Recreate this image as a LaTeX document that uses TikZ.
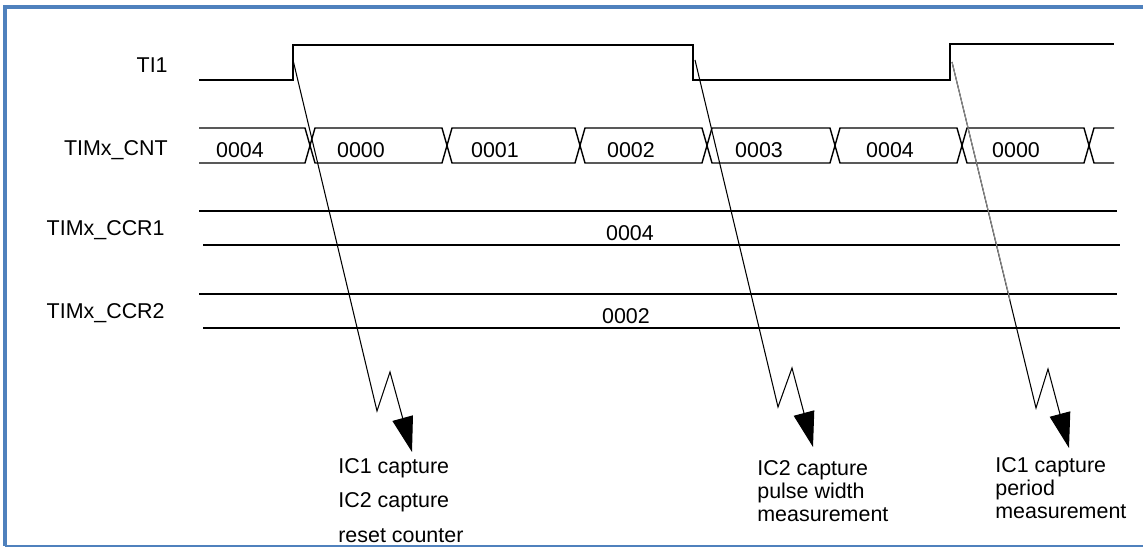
\documentclass[tikz,border=0pt]{standalone}
\usepackage{fontspec}
\setmainfont{Liberation Sans}
\usepackage{tikz}
\usetikzlibrary{arrows.meta}
\definecolor{frameblue}{RGB}{79, 129, 189}

\begin{document}
\begin{tikzpicture}[x=0.02cm, y=-0.02cm,
        sig/.style = {line width=0.8pt},
        val/.style = {font=\fontsize{12.2}{13}\selectfont, inner sep=0pt},
        signame/.style = {font=\fontsize{12.2}{13}\selectfont, anchor=east, inner sep=0pt},
        note/.style = {font=\fontsize{12.2}{13}\selectfont, anchor=north west, align=left, inner sep=0pt},
        trig/.style = {line width=0.6pt, -{Triangle[length=20pt, width=12pt]}}]
        \useasboundingbox (0,0) rectangle (1143,548);
        \draw[frameblue, line width=2.3pt] (1143,7) -- (5,7) -- (5,546);
        \draw[frameblue, line width=1.2pt] (5,546) -- (1143,546);
        % signal names
        \node[signame] (ti1) at (168,65) {TI1};
        \node[signame] (cnt) at (168,150) {TIMx\_CNT};
        \node[signame] (ccr1) at (165,230) {TIMx\_CCR1};
        \node[signame] (ccr2) at (165,313) {TIMx\_CCR2};
        % TI1
        \draw[sig] (199,80) -- (293,80) -- (293,45) -- (693,45) -- (693,80) -- (950,80) -- (950,44) -- (1114,44);
        \coordinate (rise1) at (293,60);
        \coordinate (fall1) at (695,60);
        \coordinate (rise2) at (952,62);
        % counter
        \draw[sig] (199,128) -- (305,128) -- (310,145.5) -- (305,163) -- (199,163);
        \foreach \a/\b in {310/447, 447/580, 580/707, 707/835, 835/962, 962/1089}
                \draw[sig] (\a,145.5) -- (\a+5,128) -- (\b-5,128) -- (\b,145.5) -- (\b-5,163) -- (\a+5,163) -- cycle;
        \draw[sig] (1114,128) -- (1094,128) -- (1089,145.5) -- (1094,163) -- (1114,163);
        \foreach \t/\v [count=\i] in {240/0004, 361/0000, 495/0001, 631/0002, 759/0003, 890/0004, 1016/0000}
                \node[val] (v\i) at (\t,150) {\v};
        % capture registers
        \draw[sig] (199,211) -- (1117,211);
        \draw[sig] (203,245) -- (1120,245);
        \node[val] (c1) at (630,233) {0004};
        \draw[sig] (199,294) -- (1117,294);
        \draw[sig] (203,328) -- (1120,328);
        \node[val] (c2) at (626,316) {0002};
        % events
        \node[note] (n1) at (338,458) {IC1 capture\\[6.6pt]IC2 capture\\[6.6pt]reset counter};
        \node[note] (n2) at (757,460) {IC2 capture\\pulse width\\measurement};
        \node[note] (n3) at (995,457) {IC1 capture\\period\\measurement};
        \coordinate (tip1) at (412,452);
        \coordinate (tip2) at (813,447);
        \coordinate (tip3) at (1069,448);
        \draw[trig] (rise1) -- (377,411) -- (390,372) -- (tip1);
        \draw[trig] (fall1) -- (778,407) -- (792,368) -- (tip2);
        \draw[trig] (rise2) -- (1036,408) -- (1048,369) -- (tip3);
        \draw[black!45, line width=0.6pt] (rise2) -- (1010,300);
\end{tikzpicture}
\end{document}
